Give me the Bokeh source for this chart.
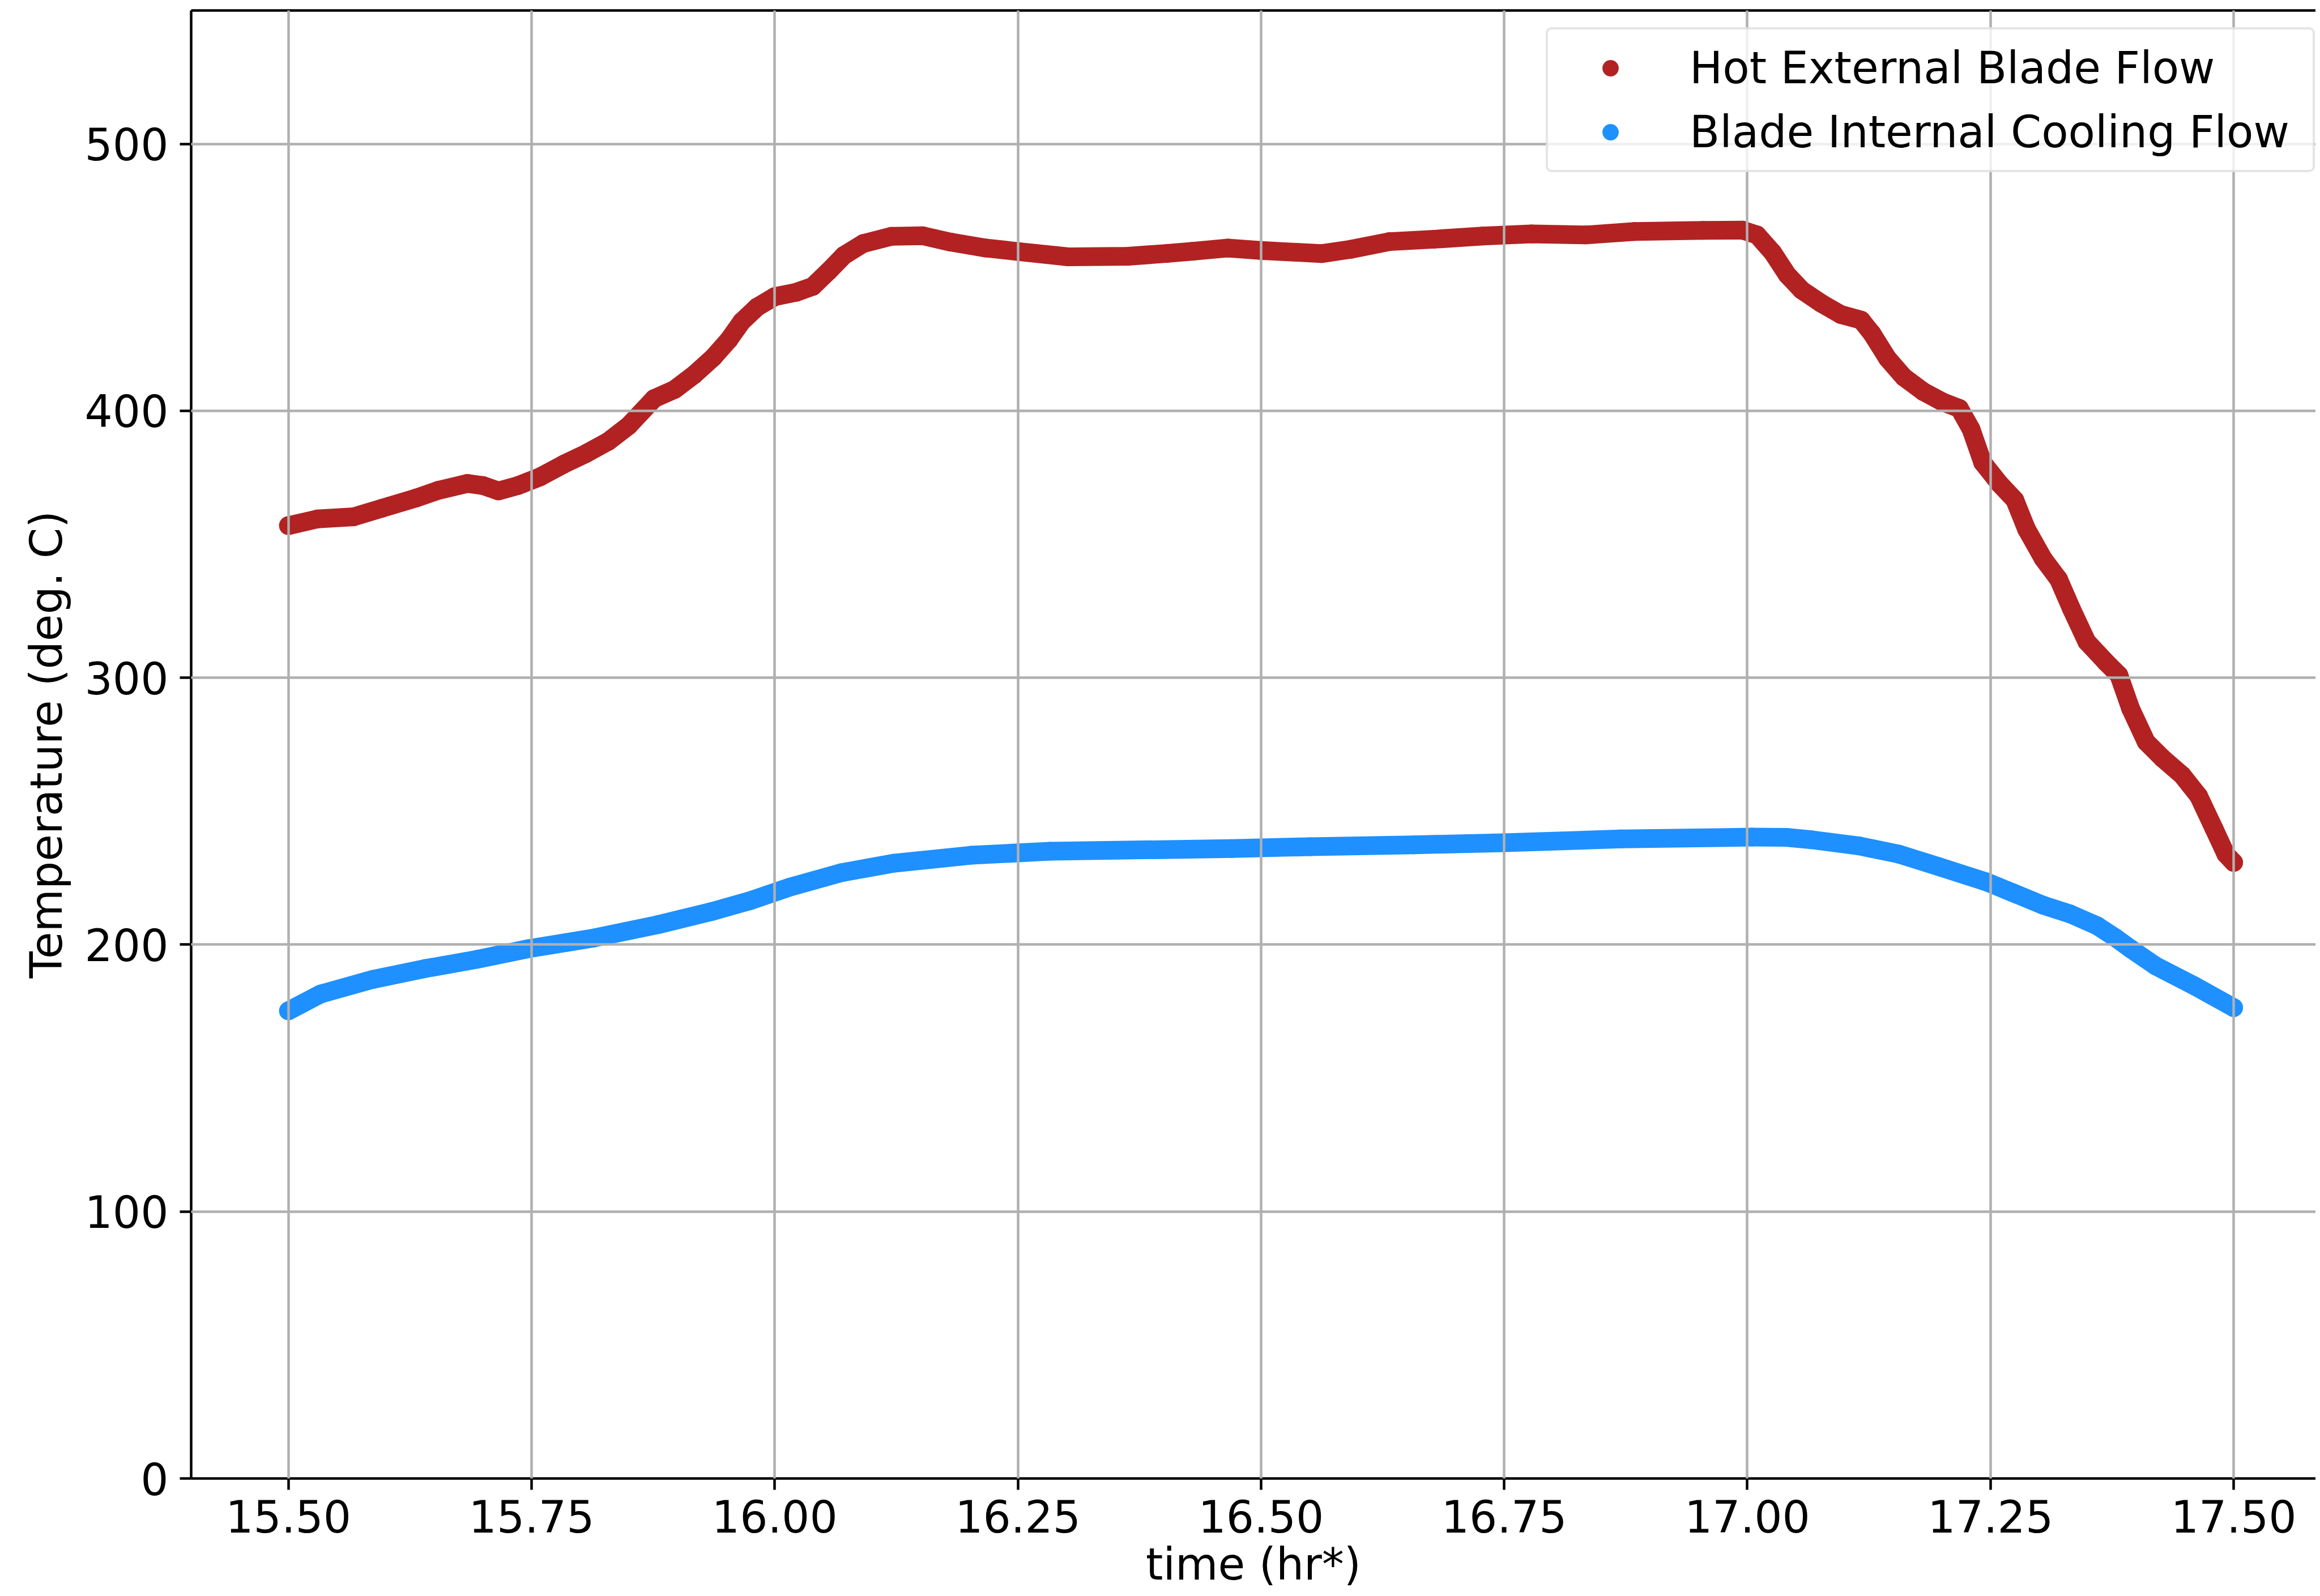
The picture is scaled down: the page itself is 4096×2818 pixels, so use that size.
from bokeh.plotting import figure
from bokeh.models import (Range1d, FixedTicker, PrintfTickFormatter, LinearAxis,
                          Legend, LegendItem, ColumnDataSource)
from bokeh.embed import file_html
from bokeh.resources import INLINE

# ---------------- data ----------------
hot_time = [15.500, 15.530, 15.567, 15.596, 15.631, 15.654, 15.684, 15.700, 15.716, 15.736,
            15.759, 15.783, 15.806, 15.829, 15.850, 15.876, 15.897, 15.917, 15.937, 15.953,
            15.966, 15.982, 16.000, 16.022, 16.039, 16.055, 16.071, 16.091, 16.120, 16.152,
            16.181, 16.217, 16.250, 16.302, 16.363, 16.404, 16.430, 16.466, 16.500, 16.562,
            16.592, 16.632, 16.678, 16.728, 16.778, 16.834, 16.884, 16.955, 16.995, 17.010,
            17.026, 17.041, 17.056, 17.076, 17.096, 17.117, 17.128, 17.144, 17.161, 17.181,
            17.201, 17.218, 17.230, 17.242, 17.259, 17.275, 17.287, 17.304, 17.320, 17.333,
            17.349, 17.369, 17.382, 17.394, 17.410, 17.427, 17.447, 17.464, 17.480, 17.492,
            17.500]
hot_temp = [357.0, 359.5, 360.3, 363.5, 367.3, 370.2, 372.8, 372.0, 370.0, 372.0,
            375.3, 380.0, 384.0, 388.6, 394.5, 404.6, 408.0, 413.5, 420.1, 426.7,
            433.4, 438.9, 442.8, 444.4, 446.6, 452.2, 458.2, 462.7, 465.4, 465.6,
            463.2, 461.0, 459.7, 457.7, 457.9, 459.0, 459.8, 461.0, 460.1, 458.9,
            460.5, 463.4, 464.3, 465.5, 466.3, 465.9, 467.2, 467.6, 467.7, 465.9,
            459.3, 451.0, 445.2, 440.3, 436.1, 434.0, 429.0, 419.7, 412.6, 407.2,
            403.3, 400.9, 393.1, 380.6, 372.8, 366.6, 355.7, 344.7, 336.9, 326.0,
            313.5, 305.7, 301.0, 288.5, 276.0, 269.8, 263.5, 255.7, 243.3, 233.9,
            230.8]

cool_time = [15.500, 15.533, 15.587, 15.640, 15.694, 15.747, 15.814, 15.880, 15.935, 15.975,
             16.015, 16.069, 16.122, 16.202, 16.283, 16.470, 16.550, 16.657, 16.750, 16.870,
             17.005, 17.040, 17.066, 17.115, 17.156, 17.197, 17.246, 17.304, 17.332, 17.360,
             17.378, 17.394, 17.420, 17.460, 17.500]
cool_temp = [175.2, 181.5, 187.0, 191.0, 194.5, 198.5, 202.5, 207.5, 212.4, 216.5,
             221.5, 227.0, 230.5, 233.5, 235.0, 236.0, 236.7, 237.4, 238.2, 239.6,
             240.3, 240.2, 239.3, 237.0, 233.9, 229.2, 223.5, 214.8, 211.5, 207.0,
             202.7, 198.5, 192.0, 184.5, 176.4]

x_ticks = [15.50, 15.75, 16.00, 16.25, 16.50, 16.75, 17.00, 17.25, 17.50]
y_ticks = [0, 100, 200, 300, 400, 500]

hot_label = "Hot External Blade Flow"
cool_label = "Blade Internal Cooling Flow"
x_title = "time (hr*)"
y_title = "Temperature (deg. C)"

# ---------------- styling ----------------
RED = "#b22222"
BLUE = "#1e90ff"
FONT = "DejaVu Sans"
FS = "77.5px"
LW = 4.5

p = figure(width=4088, height=2810, output_backend="svg", toolbar_location=None,
           x_range=Range1d(15.4, 17.5844), y_range=Range1d(0, 550),
           min_border_left=337, min_border_right=0, min_border_top=18, min_border_bottom=200)
p.outline_line_color = None
p.background_fill_color = "white"
p.border_fill_color = "white"

p.xaxis.ticker = FixedTicker(ticks=x_ticks)
p.xaxis.formatter = PrintfTickFormatter(format="%.2f")
p.yaxis.ticker = FixedTicker(ticks=y_ticks)
p.xgrid.ticker = FixedTicker(ticks=x_ticks)
p.ygrid.ticker = FixedTicker(ticks=y_ticks)

for ax in (p.xaxis, p.yaxis):
    ax.axis_line_color = "black"
    ax.axis_line_width = LW
    ax.major_tick_line_color = "black"
    ax.major_tick_line_width = LW
    ax.major_tick_out = 20
    ax.major_tick_in = 0
    ax.minor_tick_out = 0
    ax.minor_tick_in = 0
    ax.major_label_text_font = FONT
    ax.major_label_text_font_size = FS
    ax.major_label_text_color = "black"
    ax.axis_label_text_font = FONT
    ax.axis_label_text_font_size = FS
    ax.axis_label_text_font_style = "normal"
    ax.axis_label_text_color = "black"

p.xaxis.major_label_standoff = 17
p.yaxis.major_label_standoff = 20

p.xaxis.axis_label = x_title
p.xaxis.axis_label_standoff = 8
p.yaxis.axis_label = y_title
p.yaxis.axis_label_standoff = 20

top_axis = LinearAxis(ticker=FixedTicker(ticks=[]), axis_line_color="black", axis_line_width=LW,
                      major_tick_out=0, major_tick_in=0, minor_tick_out=0, minor_tick_in=0,
                      major_label_text_font_size="0px", major_label_standoff=0)
p.add_layout(top_axis, "above")

for g in (p.xgrid, p.ygrid):
    g.grid_line_color = "#b0b0b0"
    g.grid_line_width = LW
    g.level = "guide"

src_hot = ColumnDataSource(dict(t=hot_time, v=hot_temp))
src_cool = ColumnDataSource(dict(t=cool_time, v=cool_temp))

p.line("t", "v", source=src_hot, line_color=RED, line_width=33, line_cap="round", line_join="round")
r_hot = p.scatter("t", "v", source=src_hot, size=33, fill_color=RED, line_color=None)
p.line("t", "v", source=src_cool, line_color=BLUE, line_width=33, line_cap="round", line_join="round")
r_cool = p.scatter("t", "v", source=src_cool, size=33, fill_color=BLUE, line_color=None)

legend = Legend(items=[LegendItem(label=hot_label, renderers=[r_hot]),
                       LegendItem(label=cool_label, renderers=[r_cool])],
                location=(2392, 2306), padding=22, spacing=22, glyph_width=176, glyph_height=72,
                label_standoff=52, label_height=91, label_width=1078, margin=0,
                label_text_font=FONT, label_text_font_size=FS, label_text_color="black",
                border_line_color="#cccccc", border_line_width=4,
                background_fill_color="white", background_fill_alpha=0.8)
if "border_radius" in Legend.properties():
    legend.border_radius = 10
p.add_layout(legend, "center")

open("out.html", "w").write(file_html(p, INLINE, title="Blade temperatures"))
